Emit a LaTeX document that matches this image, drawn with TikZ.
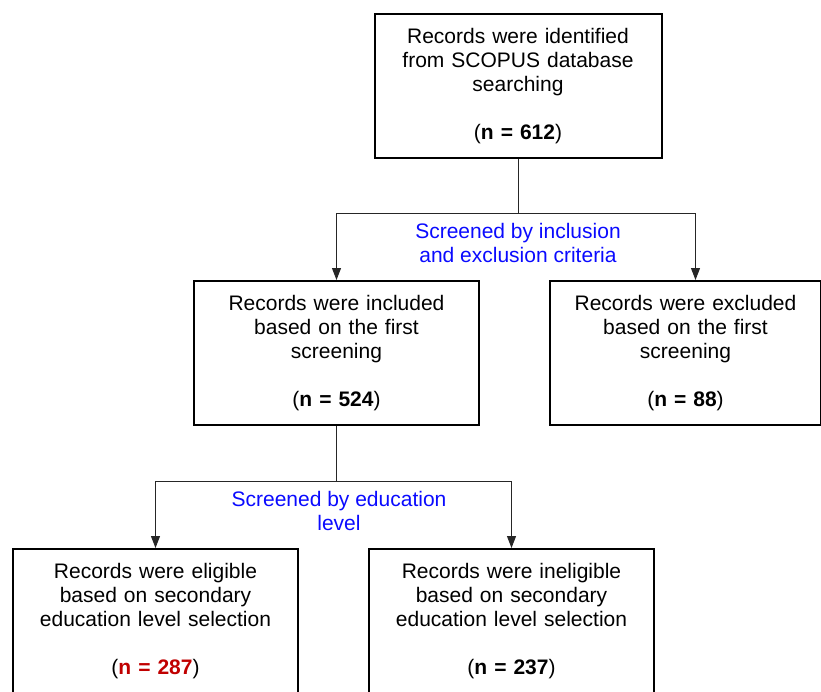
\documentclass[tikz,border=0pt]{standalone}
\usepackage{fontspec}
\setmainfont{Liberation Sans}
\usepackage{xcolor}
\usetikzlibrary{positioning, arrows.meta}

\definecolor{nred}{RGB}{192,0,0}
\definecolor{critblue}{RGB}{10,10,255}

\begin{document}
\begin{tikzpicture}[
x=1pt, y=1pt,
node distance=69pt,
box/.style={rectangle, draw, line width=2pt, align=center, text width=240pt, minimum width=285pt, minimum height=144pt, inner sep=0pt, font=\fontsize{21}{24}\selectfont},
crit/.style={align=center, text=critblue, font=\fontsize{21}{24}\selectfont},
conn/.style={line width=1pt, draw=black!85},
arrow/.style={conn, -{Triangle[width=9pt, length=12pt]}}
]
\useasboundingbox (0,0) rectangle (821,-691);

\node[box, minimum width=287pt] (rec_id) at (518,-86) {Records were identified \\ from SCOPUS database \\ searching \\[24pt] (\textbf{n = 612})};
\node[box] (rec_incl) at (336.5,-353) {Records were included \\ based on the first \\ screening \\[24pt] (\textbf{n = 524})};
\node[box, minimum width=271pt, right=of rec_incl] (rec_excl) {Records were excluded \\ based on the first \\ screening \\[24pt] (\textbf{n = 88})};
\node[box] (rec_elig) at (155.5,-621) {Records were eligible \\ based on secondary \\ education level selection \\[24pt] (\textcolor{nred}{\textbf{n = 287}})};
\node[box, right=of rec_elig] (rec_inel) {Records were ineligible \\ based on secondary \\ education level selection \\[24pt] (\textbf{n = 237})};

\node[crit] (lbl_crit) at (518,-243) {Screened by inclusion \\ and exclusion criteria};
\node[crit] (lbl_edu) at (339,-511) {Screened by education \\ level};

% first screening
\draw[conn] (rec_id.south) -- ++(0,-54) coordinate (fork_crit);
\draw[arrow] (fork_crit) -| (rec_incl.north);
\draw[arrow] (fork_crit) -| ([xshift=10pt]rec_excl.north);

% education level
\draw[conn] (rec_incl.south) -- ++(0,-55) coordinate (fork_edu);
\draw[arrow] (fork_edu) -| (rec_elig.north);
\draw[arrow] (fork_edu) -| (rec_inel.north);

\end{tikzpicture}
\end{document}
